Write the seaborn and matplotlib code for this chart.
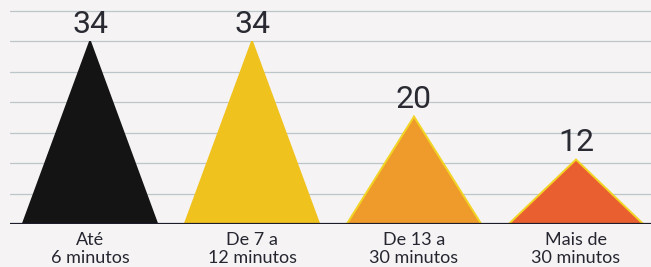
import numpy as np
import matplotlib.pyplot as plt
import seaborn as sns

sns.set_theme(style="white")
plt.rcParams["font.family"] = ["Lato", "DejaVu Sans"]

# data
categories = ["Até\n6 minutos", "De 7 a\n12 minutos", "De 13 a\n30 minutos", "Mais de\n30 minutos"]
values = [34, 34, 20, 12]
colors = ["#141414", "#F0C21E", "#EF9B2B", "#EA5F2F"]
edges = ["#141414", "#F0C21E", "#F2D424", "#F2D424"]

bg = "#F5F3F4"
fig = plt.figure(figsize=(6.51, 2.67), dpi=100, facecolor=bg)
ax = fig.add_axes([10 / 651, 43 / 267, 641 / 651, 224 / 267])
ax.set_facecolor(bg)

ymax = 41.7
step = 34 / 6
half = 0.415

# gridlines
for k in range(1, 8):
    ax.axhline(k * step, color="#BCC5C9", lw=0.9, zorder=0)
ax.axhline(0, color="#1C1C2A", lw=1.6, zorder=3)

for i, (v, c, e) in enumerate(zip(values, colors, edges)):
    xs = [i - half, i, i + half]
    ys = [0, v, 0]
    ax.fill(xs, ys, facecolor=c, edgecolor=e, lw=1.4, zorder=2)
    ax.annotate(str(v), (i, v), xytext=(0, 2), textcoords="offset points",
                ha="center", va="bottom", fontsize=23, fontweight="normal",
                family=["Roboto", "DejaVu Sans"], color="#2A2A33")

ax.set_xlim(-0.494, 3.463)
ax.set_ylim(0, ymax)
ax.set_xticks(range(len(categories)))
ax.set_xticklabels(categories, fontsize=13, color="#262630", linespacing=1.1)
ax.tick_params(axis="x", length=0, pad=6)
ax.set_yticks([])
sns.despine(ax=ax, left=True, bottom=True)

fig.savefig("out.png", dpi=100, facecolor=bg)
